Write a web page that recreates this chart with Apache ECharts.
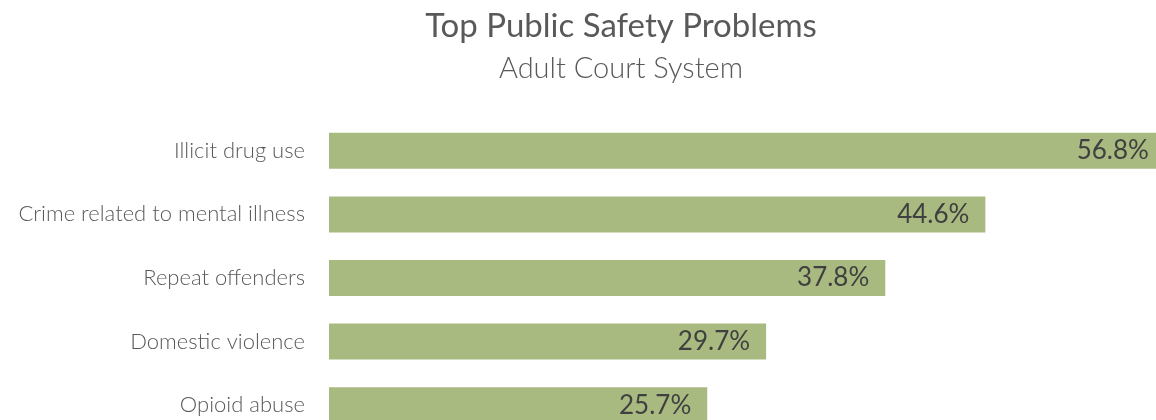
<!DOCTYPE html>
<html>
<head>
<meta charset="utf-8">
<script src="https://cdn.jsdelivr.net/npm/echarts@6/dist/echarts.min.js"></script>
<style>
  html, body { margin: 0; padding: 0; background: #fff; }
  #chart { width: 1156px; height: 420px; }
</style>
</head>
<body>
<div id="chart"></div>
<script>
// data
var categories = ['Illicit drug use', 'Crime related to mental illness', 'Repeat offenders', 'Domestic violence', 'Opioid abuse'];
var percents = [56.8, 44.6, 37.8, 29.7, 25.7];

var myChart = echarts.init(document.getElementById('chart'));

var option = {
    animation: false,
    title: [
        {
            text: 'Top Public Safety Problems',
            left: 616, top: 5, textAlign: 'center',
            textStyle: { fontFamily: 'Lato', fontWeight: 'normal', fontSize: 33, color: '#595959' }
        },
        {
            text: 'Adult Court System',
            left: 616, top: 49, textAlign: 'center',
            textStyle: { fontFamily: 'Lato', fontWeight: 300, fontSize: 29, color: '#595959' }
        }
    ],
    // grid runs past the right/bottom edge, like the cropped original
    grid: { left: 329, top: 119, width: 883, height: 318, outerBoundsMode: 'none', containLabel: false },
    xAxis: {
        type: 'value', min: 0, max: 60,
        show: false
    },
    yAxis: {
        type: 'category',
        inverse: true,
        data: categories,
        axisLine: { show: false },
        axisTick: { show: false },
        axisLabel: { margin: 24, fontFamily: 'Lato', fontWeight: 300, fontSize: 22, color: '#595959' }
    },
    series: [{
        type: 'bar',
        data: percents,
        barWidth: 36,
        clip: false,
        itemStyle: { color: '#A9BA80' },
        label: {
            show: true, position: 'insideRight', distance: 16,
            formatter: function (p) { return p.value.toFixed(1) + '%'; },
            fontFamily: 'Lato', fontSize: 26, color: '#404040'
        }
    }]
};

myChart.setOption(option);
</script>
</body>
</html>
